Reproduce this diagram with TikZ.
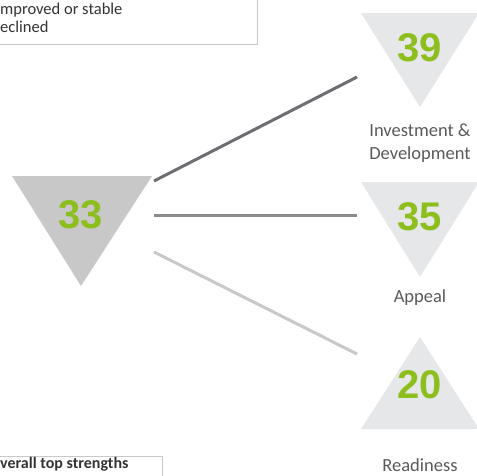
\documentclass[tikz,border=0pt]{standalone}
\usepackage{fontspec}
\setmainfont{Carlito}
\newfontfamily\numfont{Liberation Sans}
\usepackage{xcolor}
\usetikzlibrary{positioning}
\definecolor{scoregreen}{HTML}{8CBE1E}
\definecolor{labelgray}{HTML}{595959}
\definecolor{overallgray}{HTML}{C8C8C8}
\definecolor{pillargray}{HTML}{E6E7E8}
\definecolor{linkdark}{HTML}{6D6E71}
\definecolor{linkmid}{HTML}{8C8C8C}
\definecolor{linklight}{HTML}{C8C8C8}
\definecolor{boxgray}{HTML}{C8C8C8}
\tikzset{
  scorenum/.style={font=\numfont\bfseries\fontsize{40}{40}\selectfont, text=scoregreen, inner sep=0pt},
  scorelabel/.style={font=\fontsize{18.5}{23}\selectfont, text=labelgray, align=center, inner sep=0pt},
  legendbox/.style={draw=boxgray, line width=1pt},
  legendtext/.style={font=\fontsize{16.5}{17}\selectfont, text=black!80, anchor=west, inner sep=0pt},
  linkline/.style={line width=3pt}
}
\begin{document}
\begin{tikzpicture}[x=1pt,y=-1pt]
  \useasboundingbox (0,0) rectangle (477,475);

  % legend boxes, cut by the frame
  \draw[legendbox] (-20,-5) rectangle (257,44);
  \node[legendtext] (improved) at (0,10) {mproved or stable};
  \node[legendtext] (declined) at (0,27) {eclined};
  \draw[legendbox] (-20,456) rectangle (162,495);
  \node[legendtext, font=\bfseries\fontsize{16}{17}\selectfont] (strengths) at (0,464) {verall top strengths};

  % overall score
  \fill[overallgray] (12,176) -- (152,176) -- (81,286) -- cycle;
  \node[scorenum] (overall) at (81,215) {33};

  % pillar scores
  \fill[pillargray] (361,13) -- (479,13) -- (420,107) -- cycle;
  \node[scorenum] (invest) at (420,48) {39};
  \node[scorelabel] (investlab) at (420,143) {Investment \&\\Development};

  \fill[pillargray] (361,182) -- (479,182) -- (420,277) -- cycle;
  \node[scorenum] (appeal) at (420,217) {35};
  \node[scorelabel] (appeallab) at (420,298) {Appeal};

  \fill[pillargray] (361,429) -- (479,429) -- (420,337) -- cycle;
  \node[scorenum] (ready) at (420,385) {20};
  \node[scorelabel] (readylab) at (420,465) {Readiness};

  % links
  \coordinate (o1) at (154,181);
  \coordinate (o2) at (154,215);
  \coordinate (o3) at (154,252);
  \coordinate (p1) at (357,77);
  \coordinate (p2) at (357,215);
  \coordinate (p3) at (357,354);
  \draw[linkline, draw=linkdark] (o1) -- (p1);
  \draw[linkline, draw=linkmid] (o2) -- (p2);
  \draw[linkline, draw=linklight] (o3) -- (p3);
\end{tikzpicture}
\end{document}
